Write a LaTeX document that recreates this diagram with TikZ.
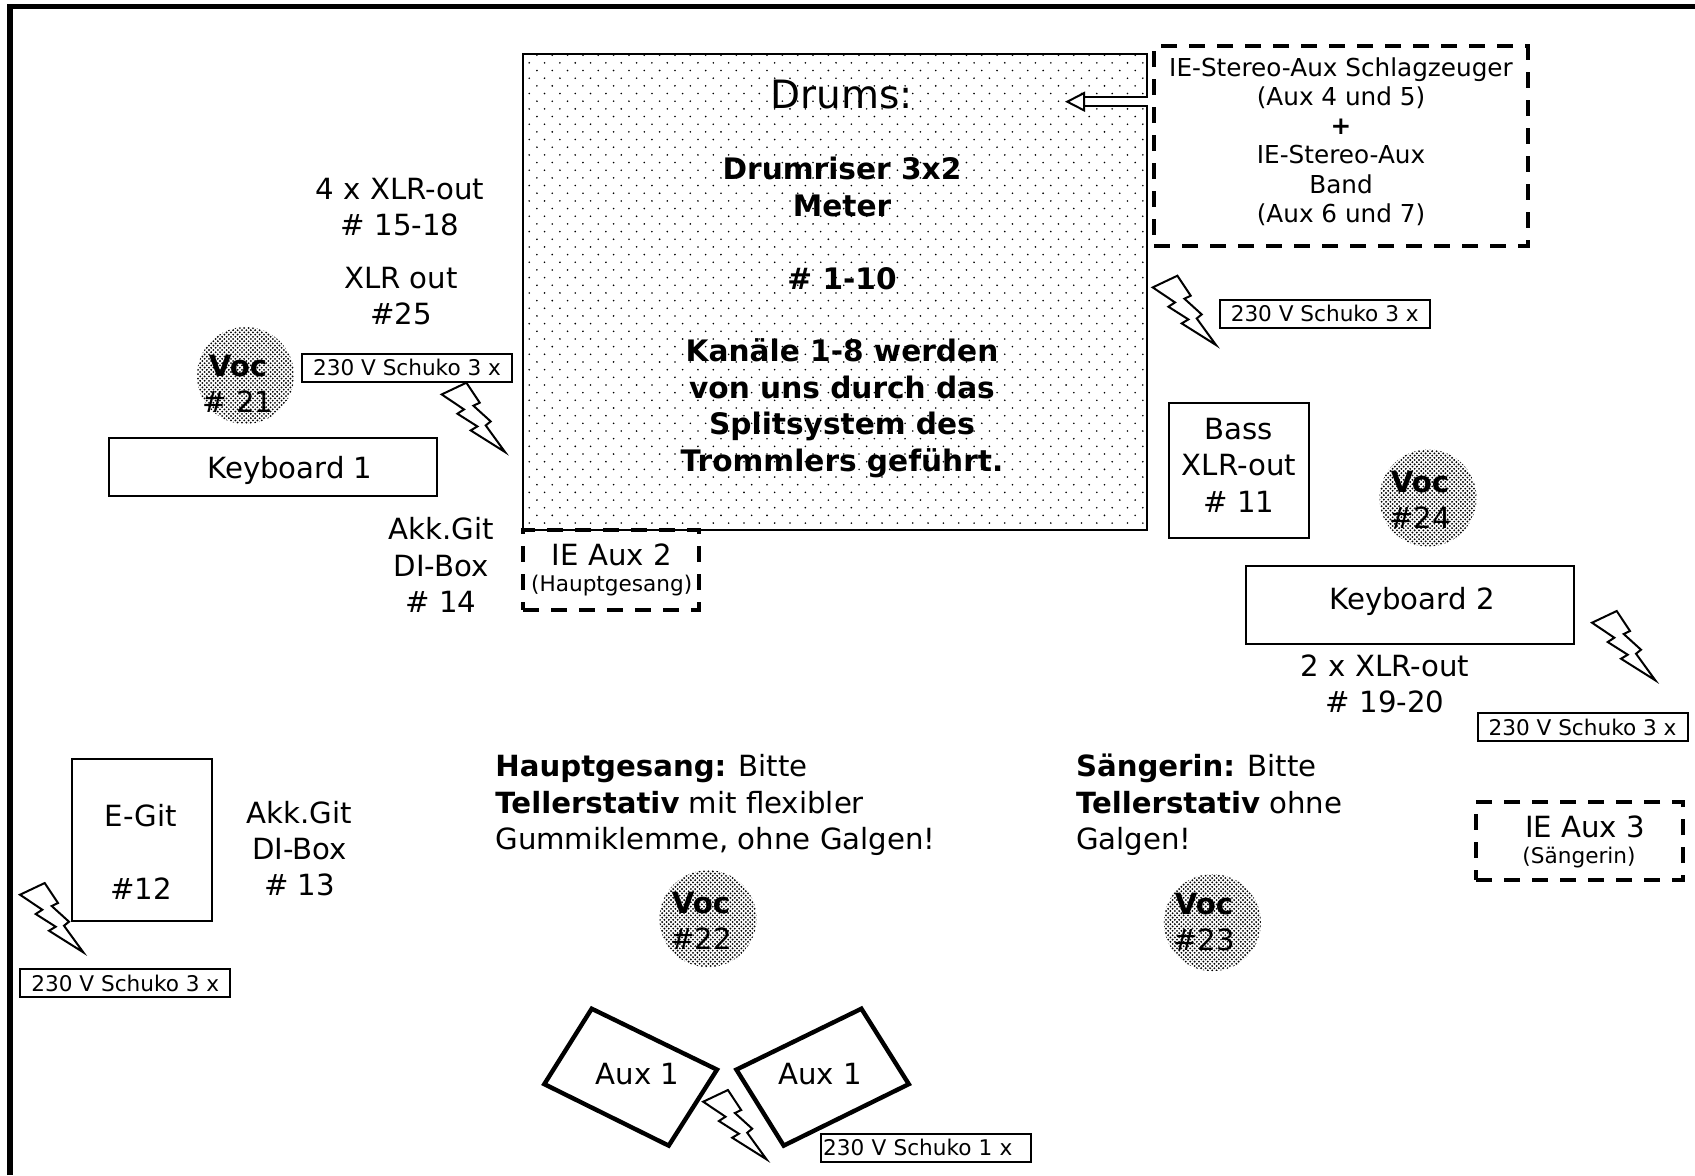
\documentclass[tikz,border=0pt]{standalone}
\usepackage{fontspec}
\setmainfont{DejaVu Sans}
\usetikzlibrary{patterns, arrows.meta}

\pgfdeclarepatternformonly{drumdots}{\pgfqpoint{-1pt}{-1pt}}{\pgfqpoint{6.67pt}{6.67pt}}{\pgfqpoint{7.67pt}{7.67pt}}{
  \pgfpathcircle{\pgfqpoint{0pt}{0pt}}{0.45pt}
  \pgfpathcircle{\pgfqpoint{3.83pt}{3.83pt}}{0.45pt}
  \pgfusepath{fill}
}
\pgfdeclarepatternformonly{vocdots}{\pgfqpoint{-0.6pt}{-0.6pt}}{\pgfqpoint{1.6pt}{1.6pt}}{\pgfqpoint{2.2pt}{2.2pt}}{
  \pgfpathcircle{\pgfqpoint{0pt}{0pt}}{0.52pt}
  \pgfpathcircle{\pgfqpoint{1.1pt}{1.1pt}}{0.52pt}
  \pgfusepath{fill}
}

\tikzset{
  every node/.style={inner sep=0pt, align=center, font=\fontsize{14.6}{18.2}\selectfont},
  bigtext/.style={font=\fontsize{19.5}{23}\selectfont},
  midtext/.style={font=\fontsize{12.35}{14.65}\selectfont},
  smalltext/.style={font=\fontsize{10.8}{12.2}\selectfont},
  boldtext/.style={font=\fontsize{14.8}{18.2}\bfseries\selectfont},
  instrument/.style={draw, line width=1pt, minimum width=#1},
  power/.style={draw, line width=1pt, minimum width=105pt, minimum height=14pt, smalltext},
  dashbox/.style={draw, line width=2pt, dash pattern=on 8pt off 6pt},
  vocspot/.style={circle, pattern=vocdots, minimum size=48.5pt},
  monitor/.style={line width=2.2pt, line join=miter},
  hollow/.style={line width=1pt, double, double distance=3.5pt, -{Triangle[open, fill=white, length=10pt, width=10pt]}},
  bolt/.pic={
    \draw[line width=1pt, fill=white, line join=miter] (0,11.7) -- (24.7,0) -- (38,20) -- (31.7,23) -- (49,38.7) -- (44,42.7) -- (63.3,69.3) -- (29,47.7) -- (35.7,43.7) -- (15.7,31) -- (22.3,26.7) -- cycle;
  }
}

\begin{document}
\begin{tikzpicture}[x=0.5pt, y=-0.5pt]
\useasboundingbox (0,0) rectangle (1695,1175);

% Frame
\draw[line width=2.7pt] (10,1175) -- (10,6.7) -- (1695,6.7);

% Drumriser
\node[draw, line width=1pt, pattern=drumdots, minimum width=311.6pt, minimum height=237.8pt] (drums) at (835,292) {};
\node[bigtext] (drumstitle) at (842,95) {Drums:};
\node[boldtext] (drumstext) at (842,317.5) {Drumriser 3x2\\Meter\\ \\\# 1-10\\ \\Kanäle 1-8 werden\\von uns durch das\\Splitsystem des\\Trommlers geführt.};

% In-ear boxes
\node[dashbox, minimum width=187pt, minimum height=99.6pt] (ieboth) at (1341,146) {};
\node[midtext] (iebothtext) at (1341,141.5) {IE-Stereo-Aux Schlagzeuger\\(Aux 4 und 5)\\\textbf{+}\\IE-Stereo-Aux\\Band\\(Aux 6 und 7)};
\coordinate (drumstip) at (1065,101.7);
\draw[hollow] (drums.east |- drumstip) -- (drumstip);

\node[dashbox, minimum width=88pt, minimum height=40pt] (ieaux2) at (611,570) {};
\node (ieaux2text) at (611.7,555) {IE Aux 2};
\node[smalltext] (ieaux2sub) at (611.7,586) {(Hauptgesang)};

\node[dashbox, minimum width=103.5pt, minimum height=39pt] (ieaux3) at (1579.5,841) {};
\node (ieaux3text) at (1585,827) {IE Aux 3};
\node[smalltext] (ieaux3sub) at (1579,858) {(Sängerin)};

% Instruments
\node[instrument=164pt, minimum height=29pt] (keys1) at (273,467) {};
\node (keys1text) at (290,470) {Keyboard 1};
\node[instrument=164pt, minimum height=39pt] (keys2) at (1410,605) {};
\node (keys2text) at (1412,601) {Keyboard 2};
\node[instrument=70pt, minimum height=67.5pt] (bass) at (1239,470.7) {};
\node (basstext) at (1239,465) {Bass\\XLR-out\\\# 11};
\node[instrument=70pt, minimum height=81pt] (egit) at (141.7,840) {};
\node (egittext) at (141,852) {E-Git\\ \\\#12};

% Labels
\node (xlr4) at (400,207) {4 x XLR-out\\\# 15-18};
\node (xlr25) at (401,296) {XLR out\\\#25};
\node (akk14) at (441,565) {Akk.Git\\DI-Box\\\# 14};
\node (akk13) at (299.5,848.5) {Akk.Git\\DI-Box\\\# 13};
\node (xlr2) at (1385,684) {2 x XLR-out\\\# 19-20};
\node[anchor=west, align=left] (leadnote) at (495,805) {\textbf{Hauptgesang:} Bitte\\\textbf{Tellerstativ} mit flexibler\\Gummiklemme, ohne Galgen!};
\node[anchor=west, align=left] (singernote) at (1075.6,805) {\textbf{Sängerin:} Bitte\\\textbf{Tellerstativ} ohne\\Galgen!};

% Vocals
\node[vocspot] (voc21) at (245.5,375.5) {};
\node (voc21text) at (238,384) {\textbf{Voc}\\\# 21};
\node[vocspot] (voc22) at (708,918.7) {};
\node (voc22text) at (701,921) {\textbf{Voc}\\\#22};
\node[vocspot] (voc23) at (1212.4,922.6) {};
\node (voc23text) at (1204,922) {\textbf{Voc}\\\#23};
\node[vocspot] (voc24) at (1428,498) {};
\node (voc24text) at (1420,500) {\textbf{Voc}\\\#24};

% Power
\foreach \bx/\by in {1152.7/275.7, 441.7/382.7, 1592/611, 20/883, 703.2/1090} {
  \pic at (\bx,\by) {bolt};
}
\node[power] (power1) at (407,367.7) {230 V Schuko 3 x};
\node[power] (power2) at (1324.7,313.5) {230 V Schuko 3 x};
\node[power] (power3) at (1582.5,727) {230 V Schuko 3 x};
\node[power] (power4) at (125.3,983) {230 V Schuko 3 x};
\node[power, text width=103pt, align=left] (power5) at (926.2,1147.8) {230 V Schuko 1 x};

% Monitors
\draw[monitor] (591.7,1008.7) -- (717,1069.6) -- (668.7,1145.6) -- (544.3,1084.1) -- cycle;
\draw[monitor] (861.4,1008.7) -- (908.8,1084.1) -- (783.7,1145.6) -- (736.4,1069.6) -- cycle;
\node (aux1left) at (637.6,1074) {Aux 1};
\node (aux1right) at (820.2,1074) {Aux 1};

\end{tikzpicture}
\end{document}
